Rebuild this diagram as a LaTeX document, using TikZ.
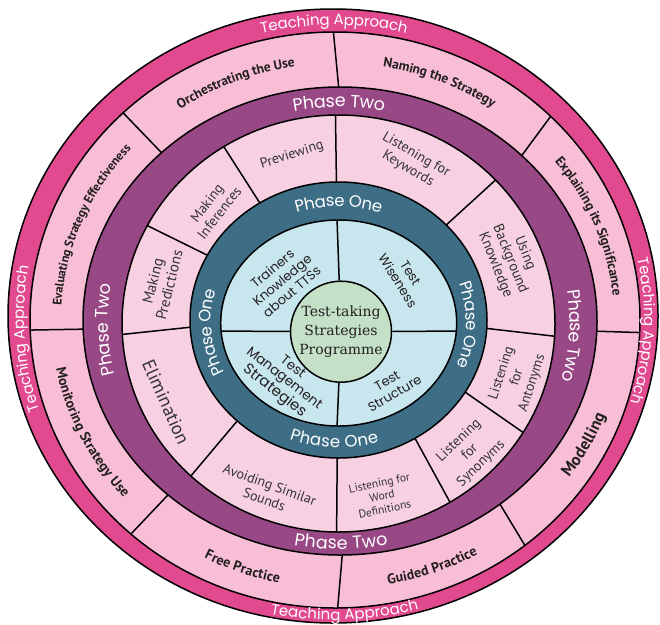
\documentclass[tikz,border=0pt]{standalone}
\usepackage{fontspec}
\usepackage{tikz}
\usetikzlibrary{calc}
\usetikzlibrary{decorations.text}
\newfontfamily\ringfont{Poppins}
\newfontfamily\stepfont{PT Sans}
\newfontfamily\hubfont{DejaVu Serif}
\definecolor{approachpink}{RGB}{226,74,143}
\definecolor{steppink}{RGB}{248,190,214}
\definecolor{phasetwo}{RGB}{153,72,134}
\definecolor{stratpink}{RGB}{247,209,226}
\definecolor{phaseone}{RGB}{62,110,134}
\definecolor{quadblue}{RGB}{200,230,238}
\definecolor{hubgreen}{RGB}{196,225,200}
\definecolor{inktext}{RGB}{35,31,32}
\newcommand\approachtxt{\ringfont\fontsize{15}{18}\selectfont}
\newcommand\phasetxt{\ringfont\fontsize{17.5}{20}\selectfont}
\newcommand\phaseonetxt{\ringfont\fontsize{16.5}{19}\selectfont}
\newcommand\steptxt{\stepfont\bfseries\fontsize{13.5}{15}\selectfont}
\newcommand\lowsteptxt{\stepfont\bfseries\fontsize{14}{16}\selectfont}
\newcommand\smallsteptxt{\stepfont\bfseries\fontsize{12.5}{14}\selectfont}
\newcommand\bigsteptxt{\stepfont\bfseries\fontsize{16.5}{18}\selectfont}

\begin{document}
\begin{tikzpicture}[x=1pt,y=1pt]
		\tikzstyle{ring}=[draw=black,line width=1.5pt];
		\tikzstyle{divider}=[draw=black,line width=1.5pt];
		\tikzstyle{ringtext}=[decorate,decoration={text along path,
			text align=center,text color=white}];
		\tikzstyle{steptext}=[decorate,decoration={text along path,
			text align=center,text color=inktext}];
		\tikzstyle{stratlabel}=[font=\stepfont\fontsize{14}{16}\selectfont,
			text=black!80,align=center,inner sep=0pt];
		\tikzstyle{quadlabel}=[font=\ringfont\fontsize{13}{15}\selectfont,
			text=inktext,align=center,inner sep=0pt];
		\useasboundingbox (0,0) rectangle (660,-624);
		% centres of the rings (the drawing is not quite concentric)
		\coordinate (c1) at (333,-316);
		\coordinate (c2) at (335,-320);
		\coordinate (c3) at (340,-321);
		\coordinate (c4) at (338.5,-323.5);
		\coordinate (c5) at (338.5,-320);
		\coordinate (c6) at (338.7,-323);
		\coordinate (m1) at (334,-318);
		\coordinate (m2) at (337.5,-320.5);
		\coordinate (m3) at (339,-322);
		\coordinate (m5) at (338.6,-321.5);

		% teaching approach
		\path[ring,fill=approachpink] (c1) ellipse [x radius=325,y radius=307];
		\path[ring,fill=steppink] (c2) ellipse [x radius=305,y radius=288];
		\draw[divider] ($(c2)+(90.3:305 and 288)$)--($(c3)+(90.3:257 and 234)$);
		\draw[divider] ($(c2)+(45:305 and 288)$)--($(c3)+(45:257 and 234)$);
		\draw[divider] ($(c2)+(-2.5:305 and 288)$)--($(c3)+(-2.5:257 and 234)$);
		\draw[divider] ($(c2)+(-51.5:305 and 288)$)--($(c3)+(-51.5:257 and 234)$);
		\draw[divider] ($(c2)+(-89.5:305 and 288)$)--($(c3)+(-89.5:257 and 234)$);
		\draw[divider] ($(c2)+(228:305 and 288)$)--($(c3)+(228:257 and 234)$);
		\draw[divider] ($(c2)+(182:305 and 288)$)--($(c3)+(182:257 and 234)$);
		\draw[divider] ($(c2)+(134:305 and 288)$)--($(c3)+(134:257 and 234)$);

		% phase two
		\path[ring,fill=phasetwo] (c3) ellipse [x radius=257,y radius=234];
		\path[ring,fill=stratpink] (c4) ellipse [x radius=216.5,y radius=208.5];
		\draw[divider] ($(c4)+(90.8:216.5 and 208.5)$)--($(c5)+(90.8:148.5 and 138)$);
		\draw[divider] ($(c4)+(43.5:216.5 and 208.5)$)--($(c5)+(43.5:148.5 and 138)$);
		\draw[divider] ($(c4)+(-3.5:216.5 and 208.5)$)--($(c5)+(-3.5:148.5 and 138)$);
		\draw[divider] ($(c4)+(-31.5:216.5 and 208.5)$)--($(c5)+(-31.5:148.5 and 138)$);
		\draw[divider] ($(c4)+(-59:216.5 and 208.5)$)--($(c5)+(-59:148.5 and 138)$);
		\draw[divider] ($(c4)+(-90.5:216.5 and 208.5)$)--($(c5)+(-90.5:148.5 and 138)$);
		\draw[divider] ($(c4)+(227:216.5 and 208.5)$)--($(c5)+(227:148.5 and 138)$);
		\draw[divider] ($(c4)+(183:216.5 and 208.5)$)--($(c5)+(183:148.5 and 138)$);
		\draw[divider] ($(c4)+(152:216.5 and 208.5)$)--($(c5)+(152:148.5 and 138)$);
		\draw[divider] ($(c4)+(122:216.5 and 208.5)$)--($(c5)+(122:148.5 and 138)$);

		% phase one
		\path[ring,fill=phaseone] (c5) ellipse [x radius=148.5,y radius=138];
		\path[ring,fill=quadblue] (c6) ellipse [x radius=118,y radius=103];
		\coordinate (qtop) at ($(c6)+(90.8:118 and 103)$);
		\coordinate (qright) at ($(c6)+(-4.5:118 and 103)$);
		\coordinate (qbottom) at ($(c6)+(269.2:118 and 103)$);
		\coordinate (qleft) at ($(c6)+(184.5:118 and 103)$);
		\node[circle,draw=black,line width=1.5pt,fill=hubgreen,minimum size=101pt,
			inner sep=0pt,align=center,text=inktext,
			font=\hubfont\fontsize{14}{19}\selectfont](hub) at (341,-331.7)
			{Test-taking\\Strategies\\Programme};
		\draw[divider](hub)--(qtop);
		\draw[divider](hub)--(qright);
		\draw[divider](hub)--(qbottom);
		\draw[divider](hub)--(qleft);

		% ring titles
		\path[ringtext,decoration={raise=-5pt,text={|\approachtxt|Teaching Approach}}]
			($(m1)+(135:315 and 298)$) arc[start angle=135,end angle=45,x radius=315,y radius=298];
		\path[ringtext,decoration={raise=-5pt,text={|\approachtxt|Teaching Approach}}]
			($(m1)+(42:315 and 298)$) arc[start angle=42,end angle=-47,x radius=315,y radius=298];
		\path[ringtext,decoration={raise=-4pt,text={|\approachtxt|Teaching Approach}}]
			($(m1)+(227:315 and 298)$) arc[start angle=227,end angle=317,x radius=315,y radius=298];
		\path[ringtext,decoration={raise=-5pt,text={|\approachtxt|Teaching Approach}}]
			($(m1)+(229:315 and 298)$) arc[start angle=229,end angle=139,x radius=315,y radius=298];
		\path[ringtext,decoration={raise=-6pt,text={|\phasetxt|Phase Two}}]
			($(m3)+(135:237 and 221)$) arc[start angle=135,end angle=45,x radius=237,y radius=221];
		\path[ringtext,decoration={raise=-6pt,text={|\phasetxt|Phase Two}}]
			($(m3)+(42:237 and 221)$) arc[start angle=42,end angle=-49,x radius=237,y radius=221];
		\path[ringtext,decoration={raise=-6pt,text={|\phasetxt|Phase Two}}]
			($(m3)+(225:237 and 221)$) arc[start angle=225,end angle=316,x radius=237,y radius=221];
		\path[ringtext,decoration={raise=-6pt,text={|\phasetxt|Phase Two}}]
			($(m3)+(227:237 and 221)$) arc[start angle=227,end angle=137,x radius=237,y radius=221];
		\path[ringtext,decoration={raise=-5.5pt,text={|\phaseonetxt|Phase One}}]
			($(m5)+(140:133 and 120.5)$) arc[start angle=140,end angle=40,x radius=133,y radius=120.5];
		\path[ringtext,decoration={raise=-5.5pt,text={|\phaseonetxt|Phase One}}]
			($(m5)+(49:133 and 120.5)$) arc[start angle=49,end angle=-52,x radius=133,y radius=120.5];
		\path[ringtext,decoration={raise=-5.5pt,text={|\phaseonetxt|Phase One}}]
			($(m5)+(218:133 and 120.5)$) arc[start angle=218,end angle=318,x radius=133,y radius=120.5];
		\path[ringtext,decoration={raise=-5.5pt,text={|\phaseonetxt|Phase One}}]
			($(m5)+(235:133 and 120.5)$) arc[start angle=235,end angle=135,x radius=133,y radius=120.5];

		% teaching steps
		\path[steptext,decoration={raise=-4.5pt,text={|\steptxt|Orchestrating the Use}}]
			($(m2)+(142:281 and 261.5)$) arc[start angle=142,end angle=82,x radius=281,y radius=261.5];
		\path[steptext,decoration={raise=-4.5pt,text={|\steptxt|Naming the Strategy}}]
			($(m2)+(98:281 and 261.5)$) arc[start angle=98,end angle=38,x radius=281,y radius=261.5];
		\path[steptext,decoration={raise=-4.5pt,text={|\steptxt|Explaining its Significance}}]
			($(m2)+(57:281 and 261.5)$) arc[start angle=57,end angle=-14,x radius=281,y radius=261.5];
		\path[steptext,decoration={raise=-5.5pt,text={|\bigsteptxt|Modelling}}]
			($(m2)+(-58:281 and 261.5)$) arc[start angle=-58,end angle=2,x radius=281,y radius=261.5];
		\path[steptext,decoration={raise=-6.5pt,text={|\lowsteptxt|Guided Practice}}]
			($(m2)+(-100:281 and 261.5)$) arc[start angle=-100,end angle=-40,x radius=281,y radius=261.5];
		\path[steptext,decoration={raise=-6.5pt,text={|\lowsteptxt|Free Practice}}]
			($(m2)+(220:281 and 261.5)$) arc[start angle=220,end angle=280,x radius=281,y radius=261.5];
		\path[steptext,decoration={raise=-5pt,text={|\lowsteptxt|Monitoring Strategy Use}}]
			($(m2)+(170:281 and 261.5)$) arc[start angle=170,end angle=241,x radius=281,y radius=261.5];
		\path[steptext,decoration={raise=-4.5pt,text={|\smallsteptxt|Evaluating Strategy Effectiveness}}]
			($(m2)+(203:281 and 261.5)$) arc[start angle=203,end angle=113,x radius=281,y radius=261.5];

		% phase two strategies
		\node[stratlabel,rotate=18](previewing) at (292,-155) {Previewing};
		\node[stratlabel,rotate=-30](keywords) at (412,-162) {Listening for\\Keywords};
		\node[stratlabel,rotate=-68,font=\stepfont\fontsize{14.5}{16}\selectfont](background)
			at (510,-259) {Using\\Background\\Knowledge};
		\node[stratlabel,rotate=72](antonyms) at (517,-378) {Listening\\for\\Antonyms};
		\node[stratlabel,rotate=44](synonyms) at (470,-452) {Listening\\for\\Synonyms};
		\node[stratlabel,rotate=12,font=\stepfont\fontsize{11.5}{13.5}\selectfont](worddef)
			at (382,-496) {Listening for\\Word\\Definitions};
		\node[stratlabel,rotate=-20](avoiding) at (267,-492) {Avoiding Similar\\Sounds};
		\node[stratlabel,rotate=-66,font=\stepfont\fontsize{18.5}{20}\selectfont](elimination)
			at (166,-402) {Elimination};
		\node[stratlabel,rotate=76,font=\stepfont\fontsize{15}{17}\selectfont](predictions)
			at (161,-283) {Making\\Predictions};
		\node[stratlabel,rotate=52](inferences) at (213,-208) {Making\\Inferences};

		% phase one areas
		\node[quadlabel,rotate=40](trainers) at (282,-280) {Trainers\\Knowledge\\about TTSs};
		\node[quadlabel,rotate=-58](wiseness) at (404,-277) {Test\\Wiseness};
		\node[quadlabel,rotate=-38,font=\ringfont\fontsize{13.5}{14}\selectfont](management)
			at (283,-380) {Test\\Management\\{\fontsize{15}{15}\selectfont Strategies}};
		\node[quadlabel,rotate=30](structure) at (391,-387) {Test\\Structure};
	\end{tikzpicture}
\end{document}
